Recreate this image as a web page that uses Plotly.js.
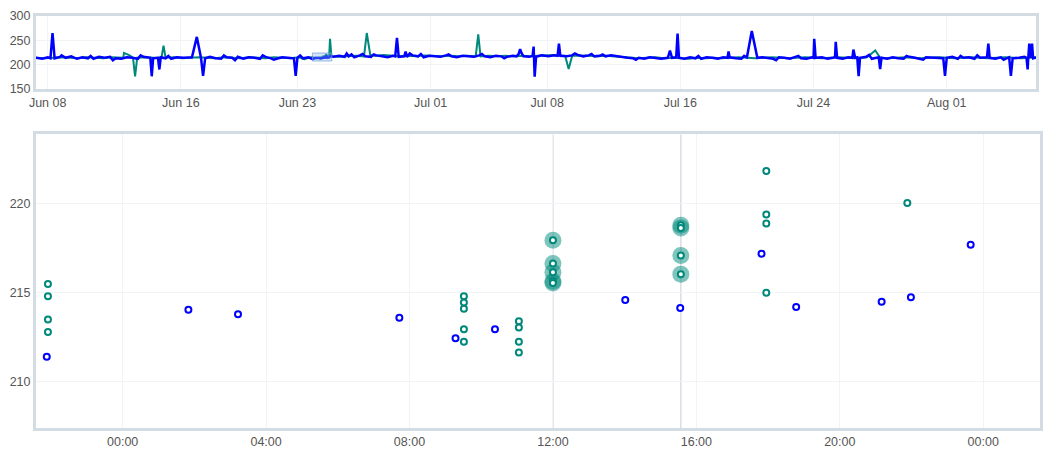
<!DOCTYPE html>
<html>
<head>
<meta charset="utf-8">
<script src="https://cdn.plot.ly/plotly-3.0.1.min.js"></script>
<style>html,body{margin:0;padding:0;background:#fff}#chart{width:1060px;height:461px}</style>
</head>
<body>
<div id="chart"></div>
<script>
// ---------- Detail window (bottom chart) ----------
const detailRangeX = ['2024-06-23 21:35', '2024-06-25 01:35'];
const detailRangeY = [207.4, 223.9];

const blueDetailTimes = ['2024-06-23 21:53','2024-06-24 01:50','2024-06-24 03:13','2024-06-24 07:43','2024-06-24 09:17','2024-06-24 10:23','2024-06-24 14:01','2024-06-24 15:33','2024-06-24 17:49','2024-06-24 18:47','2024-06-24 21:10','2024-06-24 21:59','2024-06-24 23:39'];
const blueDetailValues = [211.4, 214.05, 213.8, 213.6, 212.45, 212.95, 214.6, 214.15, 217.2, 214.2, 214.5, 214.75, 217.7];

const tealDetailTimes = [
  '2024-06-23 21:55','2024-06-23 21:55','2024-06-23 21:55','2024-06-23 21:55',
  '2024-06-24 09:31','2024-06-24 09:31','2024-06-24 09:31','2024-06-24 09:31','2024-06-24 09:31',
  '2024-06-24 11:03','2024-06-24 11:03','2024-06-24 11:03','2024-06-24 11:03',
  '2024-06-24 12:00','2024-06-24 12:00','2024-06-24 12:00','2024-06-24 12:00','2024-06-24 12:00',
  '2024-06-24 15:34','2024-06-24 15:34','2024-06-24 15:34','2024-06-24 15:34',
  '2024-06-24 17:57','2024-06-24 17:57','2024-06-24 17:57','2024-06-24 17:57',
  '2024-06-24 21:53'];
const tealDetailValues = [
  215.5, 214.8, 213.5, 212.8,
  214.8, 214.45, 214.1, 212.95, 212.25,
  213.4, 213.05, 212.25, 211.65,
  217.95, 216.65, 216.15, 215.65, 215.55,
  218.8, 218.65, 217.1, 216.05,
  221.85, 219.4, 218.9, 215.0,
  220.05];

const highlightTimes = ['2024-06-24 12:00', '2024-06-24 15:34'];

// ---------- Overview (top chart) ----------
const overviewRangeX = ['2024-06-07 07:10', '2024-08-06 08:40'];
const overviewRangeY = [150, 300];
const overviewTickVals = ['2024-06-08','2024-06-16','2024-06-23','2024-07-01','2024-07-08','2024-07-16','2024-07-24','2024-08-01'];

const blueOverview = [
['2024-06-07 07:10',214],['2024-06-07 16:00',212],['2024-06-08 00:00',215],['2024-06-08 04:00',213],['2024-06-08 07:00',265],['2024-06-08 10:00',213],['2024-06-08 18:00',216],
['2024-06-09 02:00',214],['2024-06-09 10:00',217],['2024-06-09 18:00',212],['2024-06-10 02:00',215],['2024-06-10 10:00',213],['2024-06-10 18:00',212],
['2024-06-11 02:00',216],['2024-06-11 10:00',214],['2024-06-11 18:00',216],['2024-06-12 02:00',213],['2024-06-12 10:00',212],['2024-06-12 18:00',215],
['2024-06-13 02:00',214],['2024-06-13 10:00',212],['2024-06-13 18:00',216],['2024-06-14 04:00',214],['2024-06-14 06:00',176],['2024-06-14 08:00',213],
['2024-06-14 15:00',214],['2024-06-14 17:00',190],['2024-06-14 19:00',215],['2024-06-15 02:00',213],['2024-06-15 10:00',212],['2024-06-15 18:00',215],
['2024-06-16 04:00',214],['2024-06-16 16:00',215],['2024-06-16 23:00',257],['2024-06-17 05:00',214],['2024-06-17 08:00',177],['2024-06-17 11:00',213],
['2024-06-17 18:00',216],['2024-06-18 02:00',213],['2024-06-18 10:00',212],['2024-06-18 18:00',215],['2024-06-19 02:00',214],['2024-06-19 10:00',216],
['2024-06-19 18:00',212],['2024-06-20 02:00',215],['2024-06-20 10:00',214],['2024-06-20 18:00',212],['2024-06-21 02:00',216],['2024-06-21 10:00',213],
['2024-06-21 18:00',212],['2024-06-22 02:00',215],['2024-06-22 10:00',214],['2024-06-22 19:00',213],['2024-06-22 21:30',177],['2024-06-23 00:00',214],
['2024-06-23 08:00',213],['2024-06-23 16:00',215],
['2024-06-25 04:00',216],['2024-06-25 12:00',218],['2024-06-25 20:00',216],['2024-06-25 23:00',223],['2024-06-26 02:00',217],['2024-06-26 10:00',215],
['2024-06-26 18:00',219],['2024-06-27 02:00',217],['2024-06-27 10:00',216],['2024-06-27 18:00',219],['2024-06-28 02:00',217],['2024-06-28 10:00',215],
['2024-06-28 18:00',218],['2024-06-28 21:00',217],['2024-06-28 23:30',255],['2024-06-29 02:00',216],['2024-06-29 10:00',217],['2024-06-29 12:00',227],
['2024-06-29 14:00',216],['2024-06-29 22:00',219],['2024-06-30 06:00',217],['2024-06-30 14:00',215],['2024-06-30 22:00',218],['2024-07-01 06:00',217],
['2024-07-01 14:00',216],['2024-07-01 22:00',219],['2024-07-02 06:00',217],['2024-07-02 14:00',215],['2024-07-02 22:00',218],['2024-07-03 06:00',217],
['2024-07-03 14:00',216],['2024-07-03 22:00',219],['2024-07-04 06:00',217],['2024-07-04 14:00',215],['2024-07-04 22:00',218],['2024-07-05 06:00',217],
['2024-07-05 14:00',216],['2024-07-05 22:00',218],['2024-07-06 04:00',217],['2024-07-06 07:00',222],['2024-07-06 09:00',232],['2024-07-06 11:00',224],
['2024-07-06 14:00',217],['2024-07-06 22:00',216],['2024-07-07 03:00',218],['2024-07-07 04:30',237],['2024-07-07 06:00',175],['2024-07-07 08:00',216],
['2024-07-07 16:00',219],['2024-07-08 02:00',217],['2024-07-08 10:00',219],['2024-07-08 15:00',218],['2024-07-08 17:00',243],['2024-07-08 19:00',218],
['2024-07-09 04:00',217],['2024-07-09 12:00',219],['2024-07-09 20:00',220],['2024-07-10 04:00',217],['2024-07-10 12:00',219],['2024-07-10 20:00',217],
['2024-07-11 04:00',218],['2024-07-11 12:00',217],['2024-07-11 20:00',219],['2024-07-12 04:00',217],['2024-07-12 12:00',216],['2024-07-12 20:00',214],
['2024-07-13 04:00',213],['2024-07-13 12:00',214],['2024-07-13 20:00',212],['2024-07-14 04:00',215],['2024-07-14 12:00',213],['2024-07-14 20:00',212],
['2024-07-15 06:00',214],['2024-07-15 09:00',229],['2024-07-15 12:00',214],['2024-07-15 18:00',215],['2024-07-15 20:00',264],['2024-07-15 22:00',214],
['2024-07-16 06:00',212],['2024-07-16 14:00',215],['2024-07-16 22:00',213],['2024-07-17 06:00',212],['2024-07-17 14:00',215],['2024-07-17 22:00',214],
['2024-07-18 06:00',212],['2024-07-18 14:00',215],['2024-07-18 20:00',214],['2024-07-18 21:30',227],['2024-07-18 23:00',215],['2024-07-19 08:00',213],
['2024-07-19 16:00',212],['2024-07-20 00:00',215],['2024-07-20 07:00',269],['2024-07-20 15:00',214],['2024-07-20 22:00',215],['2024-07-21 06:00',213],
['2024-07-21 14:00',212],['2024-07-21 22:00',215],['2024-07-22 06:00',214],['2024-07-22 14:00',212],['2024-07-22 22:00',216],['2024-07-23 06:00',213],
['2024-07-23 14:00',212],['2024-07-23 22:00',215],['2024-07-24 00:00',214],['2024-07-24 01:00',253],['2024-07-24 03:00',214],['2024-07-24 12:00',215],
['2024-07-24 20:00',212],['2024-07-25 04:00',214],['2024-07-25 07:00',215],['2024-07-25 08:00',247],['2024-07-25 10:00',214],['2024-07-25 18:00',212],
['2024-07-26 02:00',215],['2024-07-26 08:00',214],['2024-07-26 09:30',231],['2024-07-26 12:00',214],['2024-07-26 15:00',215],['2024-07-26 17:00',176],
['2024-07-26 19:00',214],['2024-07-27 04:00',216],['2024-07-27 12:00',212],['2024-07-27 20:00',214],['2024-07-27 22:00',215],['2024-07-28 00:00',191],
['2024-07-28 02:00',214],['2024-07-28 10:00',212],['2024-07-28 18:00',215],['2024-07-29 02:00',213],['2024-07-29 10:00',212],['2024-07-29 18:00',216],
['2024-07-30 02:00',214],['2024-07-30 10:00',212],['2024-07-30 18:00',215],['2024-07-31 04:00',214],['2024-07-31 19:00',213],['2024-07-31 21:30',177],
['2024-08-01 00:00',214],['2024-08-01 08:00',216],['2024-08-01 16:00',212],['2024-08-02 00:00',214],['2024-08-02 08:00',215],['2024-08-02 16:00',212],
['2024-08-03 00:00',214],['2024-08-03 10:00',215],['2024-08-03 12:00',243],['2024-08-03 14:00',214],['2024-08-03 22:00',212],['2024-08-04 06:00',215],
['2024-08-04 14:00',213],['2024-08-04 18:00',215],['2024-08-04 20:30',177],['2024-08-04 23:00',213],['2024-08-05 08:00',214],['2024-08-05 16:00',216],
['2024-08-05 19:00',214],['2024-08-05 20:40',190],['2024-08-05 21:30',213],['2024-08-05 23:00',243],['2024-08-06 00:30',214],['2024-08-06 03:00',243],
['2024-08-06 04:30',213],['2024-08-06 08:40',215]
];

// small short-lived ticks visible along the blue overview line
const blueSmallTicks = [
['2024-06-08 20:00',219],['2024-06-10 14:00',218],['2024-06-11 22:00',209],['2024-06-13 14:00',219],['2024-06-15 06:00',218],
['2024-06-18 14:00',219],['2024-06-19 06:00',209],['2024-06-20 22:00',219],['2024-06-21 14:00',210],['2024-06-23 04:00',219],
['2024-06-26 06:00',221],['2024-06-26 22:00',222],['2024-06-27 14:00',221],['2024-06-29 18:00',223],['2024-06-30 10:00',222],
['2024-07-02 02:00',221],['2024-07-04 02:00',222],['2024-07-05 10:00',213],['2024-07-09 16:00',223],['2024-07-10 16:00',222],
['2024-07-11 08:00',221],['2024-07-13 08:00',210],['2024-07-17 02:00',218],['2024-07-19 20:00',218],['2024-07-21 18:00',209],
['2024-07-23 02:00',218],['2024-07-27 08:00',220],['2024-07-29 14:00',218],['2024-07-30 14:00',210],['2024-08-01 20:00',218],
['2024-08-02 20:00',219],['2024-08-04 10:00',210]
];

const tealOverview = [
['2024-06-07 07:10',214],['2024-06-07 20:00',213],['2024-06-08 08:00',214],['2024-06-08 20:00',215],['2024-06-09 08:00',214],['2024-06-09 20:00',213],
['2024-06-10 08:00',215],['2024-06-10 20:00',214],['2024-06-11 08:00',213],['2024-06-11 20:00',215],['2024-06-12 08:00',214],['2024-06-12 13:00',214],
['2024-06-12 14:00',224],['2024-06-12 22:00',219],['2024-06-13 03:00',214],['2024-06-13 06:00',176],['2024-06-13 09:00',214],['2024-06-13 20:00',215],
['2024-06-14 08:00',214],['2024-06-14 20:00',214],['2024-06-14 23:00',239],['2024-06-15 02:00',214],['2024-06-15 14:00',215],['2024-06-16 02:00',213],
['2024-06-16 14:00',214],['2024-06-17 02:00',215],['2024-06-17 14:00',214],['2024-06-18 02:00',213],['2024-06-18 14:00',215],['2024-06-19 02:00',214],
['2024-06-19 14:00',213],['2024-06-20 02:00',215],['2024-06-20 14:00',214],['2024-06-21 02:00',213],['2024-06-21 14:00',215],['2024-06-22 02:00',214],
['2024-06-22 14:00',213],['2024-06-23 02:00',215],['2024-06-23 10:00',211],['2024-06-23 16:00',214],
['2024-06-24 23:00',253],['2024-06-25 01:00',217],['2024-06-25 12:00',216],['2024-06-26 00:00',217],['2024-06-26 12:00',218],['2024-06-27 00:00',217],
['2024-06-27 04:00',265],['2024-06-27 09:00',220],['2024-06-27 16:00',218],['2024-06-28 04:00',220],['2024-06-28 16:00',218],['2024-06-29 04:00',217],
['2024-06-29 16:00',218],['2024-06-30 04:00',217],['2024-06-30 16:00',219],['2024-07-01 04:00',218],['2024-07-01 16:00',217],['2024-07-02 04:00',218],
['2024-07-02 16:00',217],['2024-07-03 04:00',218],['2024-07-03 17:00',217],['2024-07-03 20:40',262],['2024-07-04 00:00',217],['2024-07-04 12:00',218],
['2024-07-05 00:00',217],['2024-07-05 12:00',218],['2024-07-06 00:00',217],['2024-07-06 12:00',218],['2024-07-07 00:00',217],['2024-07-07 12:00',218],
['2024-07-08 00:00',219],['2024-07-08 12:00',220],['2024-07-09 02:00',218],['2024-07-09 07:00',191],['2024-07-09 12:00',218],['2024-07-10 00:00',219],
['2024-07-10 12:00',218],['2024-07-11 00:00',217],['2024-07-11 12:00',218],['2024-07-12 00:00',217],['2024-07-12 12:00',216],['2024-07-13 00:00',214],
['2024-07-13 12:00',213],['2024-07-14 00:00',214],['2024-07-14 12:00',215],['2024-07-15 00:00',213],['2024-07-15 12:00',214],['2024-07-16 00:00',213],
['2024-07-16 12:00',212],['2024-07-17 00:00',214],['2024-07-17 12:00',213],['2024-07-18 00:00',214],['2024-07-18 12:00',213],['2024-07-19 00:00',214],
['2024-07-19 12:00',215],['2024-07-20 00:00',214],['2024-07-20 12:00',213],['2024-07-21 00:00',214],['2024-07-21 12:00',215],['2024-07-22 00:00',214],
['2024-07-22 12:00',213],['2024-07-23 00:00',214],['2024-07-23 12:00',215],['2024-07-24 00:00',214],['2024-07-24 12:00',213],['2024-07-25 00:00',214],
['2024-07-25 12:00',215],['2024-07-26 00:00',214],['2024-07-26 12:00',213],['2024-07-27 00:00',214],['2024-07-27 05:00',215],['2024-07-27 17:00',229],
['2024-07-28 00:00',214],['2024-07-28 12:00',213],['2024-07-29 00:00',214],['2024-07-29 12:00',215],['2024-07-30 00:00',214],['2024-07-30 12:00',213],
['2024-07-31 00:00',214],['2024-07-31 12:00',215],['2024-08-01 00:00',214],['2024-08-01 12:00',213],['2024-08-02 00:00',214],['2024-08-02 12:00',215],
['2024-08-03 00:00',214],['2024-08-03 12:00',213],['2024-08-04 00:00',214],['2024-08-04 12:00',215],['2024-08-05 00:00',214],['2024-08-05 12:00',213],
['2024-08-06 00:00',214],['2024-08-06 08:40',215]
];

// ---------- Styles ----------
const TEAL = '#00897b';
const BLUE = '#0000ff';
const FRAME = '#d3dbe3';
const GRID = '#f1f3f6';

function mergeSeries(lists, times, values) {
  const pts = [];
  lists.forEach(l => l.forEach(p => pts.push({t: p[0], v: p[1]})));
  times.forEach((t, i) => pts.push({t: t, v: values[i]}));
  pts.sort((a, b) => new Date(a.t.replace(' ', 'T')) - new Date(b.t.replace(' ', 'T')));
  return {x: pts.map(p => p.t), y: pts.map(p => p.v)};
}
const tealTop = mergeSeries([tealOverview], tealDetailTimes, tealDetailValues);
const blueTop = mergeSeries([blueOverview, blueSmallTicks], blueDetailTimes, blueDetailValues);

const hlX = [], hlY = [];
tealDetailTimes.forEach((t, i) => { if (highlightTimes.includes(t)) { hlX.push(t); hlY.push(tealDetailValues[i]); } });

const traces = [
  {x: tealTop.x, y: tealTop.y, xaxis: 'x2', yaxis: 'y2', type: 'scatter', mode: 'lines',
   line: {color: TEAL, width: 2}, hoverinfo: 'skip'},
  {x: blueTop.x, y: blueTop.y, xaxis: 'x2', yaxis: 'y2', type: 'scatter', mode: 'lines',
   line: {color: BLUE, width: 2.5}, hoverinfo: 'skip'},
  {x: hlX, y: hlY, xaxis: 'x', yaxis: 'y', type: 'scatter', mode: 'markers',
   marker: {size: 17, color: TEAL, opacity: 0.5, line: {width: 0}}},
  {x: tealDetailTimes, y: tealDetailValues, xaxis: 'x', yaxis: 'y', type: 'scatter', mode: 'markers',
   marker: {symbol: 'circle', size: 6, color: '#ffffff', line: {color: TEAL, width: 2}}},
  {x: blueDetailTimes, y: blueDetailValues, xaxis: 'x', yaxis: 'y', type: 'scatter', mode: 'markers',
   marker: {symbol: 'circle', size: 6, color: '#ffffff', line: {color: BLUE, width: 2}}}
];

const axisBase = {showline: true, mirror: true, linecolor: FRAME, linewidth: 3,
  showgrid: true, gridcolor: GRID, gridwidth: 1, zeroline: false, ticks: '',
  tickfont: {size: 12.5, color: '#555'}, fixedrange: true};

const shapes = highlightTimes.map(t => ({type: 'line', xref: 'x', yref: 'y domain', x0: t, x1: t, y0: 0, y1: 1,
  line: {color: '#d9dde3', width: 1.5}, layer: 'below'}));
shapes.push({type: 'rect', xref: 'x2', yref: 'y2', x0: detailRangeX[0], x1: detailRangeX[1],
  y0: detailRangeY[0], y1: detailRangeY[1], fillcolor: 'rgba(130,180,230,0.35)',
  line: {color: 'rgba(110,160,220,0.7)', width: 1}, layer: 'above'});

const layout = {
  width: 1060, height: 461,
  margin: {l: 36, r: 20, t: 16, b: 33},
  paper_bgcolor: '#ffffff', plot_bgcolor: '#ffffff',
  showlegend: false,
  font: {family: 'Arial, "Liberation Sans", sans-serif', size: 12.5, color: '#555'},
  xaxis: Object.assign({}, axisBase, {domain: [0, 1], anchor: 'y', type: 'date', range: detailRangeX,
    tickformat: '%H:%M', tick0: '2024-06-24 00:00', dtick: 14400000}),
  yaxis: Object.assign({}, axisBase, {domain: [0, 0.7124], anchor: 'x', range: detailRangeY,
    tick0: 0, dtick: 5}),
  xaxis2: Object.assign({}, axisBase, {domain: [0, 0.996], anchor: 'y2', type: 'date', range: overviewRangeX,
    tickmode: 'array', tickvals: overviewTickVals, tickformat: '%b %d'}),
  yaxis2: Object.assign({}, axisBase, {domain: [0.823, 1], anchor: 'x2', range: overviewRangeY,
    tick0: 0, dtick: 50}),
  shapes: shapes
};

Plotly.newPlot('chart', traces, layout, {displayModeBar: false, staticPlot: true});
</script>
</body>
</html>
